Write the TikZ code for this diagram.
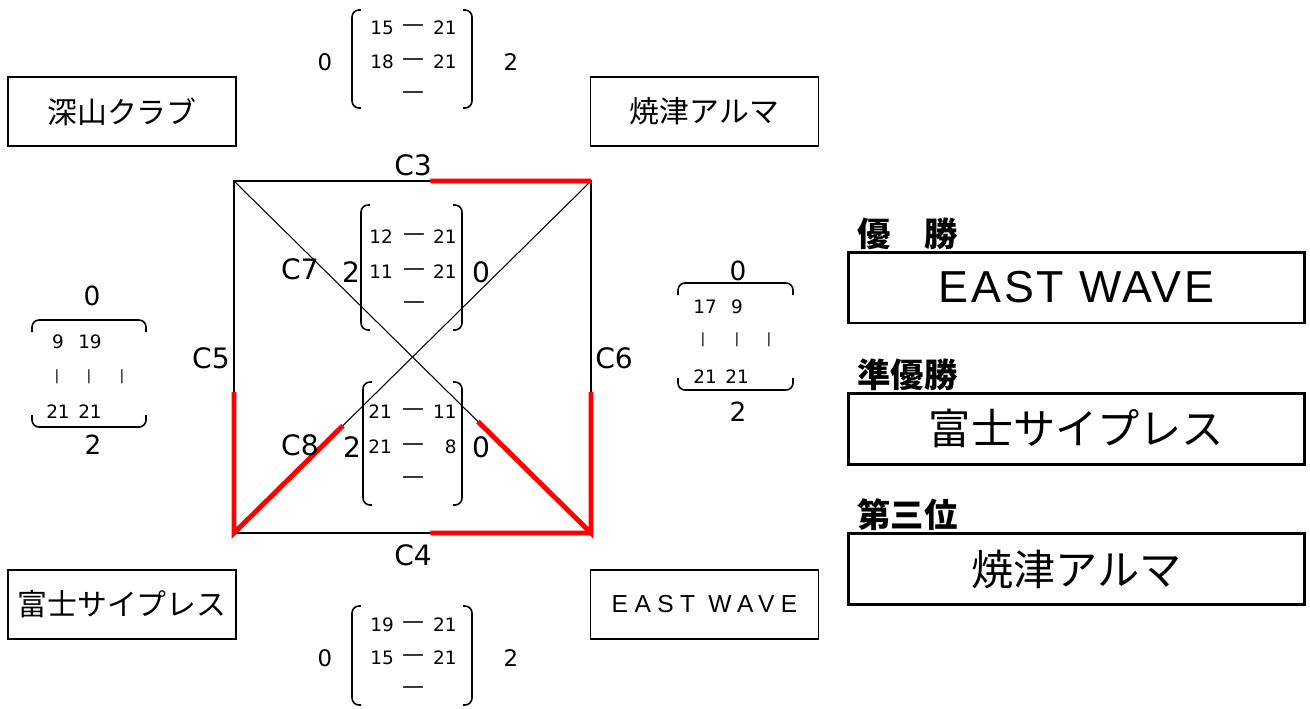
\documentclass[tikz,border=0pt]{standalone}
\usepackage{fontspec}
\setmainfont{DejaVu Sans}
\newfontfamily\jp{Noto Sans CJK JP}
\newfontfamily\widefont[LetterSpace=26]{Liberation Sans}
\newfontfamily\bigfont[LetterSpace=6]{Liberation Sans}
\usetikzlibrary{calc}
\tikzset{
	team/.style={draw, line width=0.6pt, minimum width=4.56cm, minimum height=1.38cm, inner sep=0pt, font=\jp\fontsize{17}{20}\selectfont},
	result/.style={draw, line width=1.7pt, minimum width=9.14cm, minimum height=1.42cm, inner sep=0pt, font=\jp\fontsize{24}{28}\selectfont},
	place/.style={anchor=west, inner sep=0pt, font=\jp\bfseries\fontsize{19}{22}\selectfont},
	court/.style={inner sep=0pt, font=\fontsize{16}{19}\selectfont},
	num/.style={inner sep=0pt, font=\fontsize{10.5}{12}\selectfont},
	scoredash/.style={inner sep=0pt, font=\fontsize{12.5}{14}\selectfont},
	set/.style={inner sep=0pt, font=\fontsize{13}{15}\selectfont},
	bigset/.style={inner sep=0pt, font=\fontsize{16}{19}\selectfont},
	edge/.style={line width=1.3pt},
	diag/.style={line width=0.6pt},
	won/.style={red, line width=2.8pt},
	paren/.style={line width=0.9pt, rounded corners=4pt}
}
\begin{document}
\begin{tikzpicture}[x=0.02cm, y=-0.02cm, line join=miter]
	\useasboundingbox (0,0) rectangle (1310,708);
	% teams
	\node[team] (fukayama) at (122,111.5) {深山クラブ};
	\node[team] (yaizu) at (704.5,111.5) {焼津アルマ};
	\node[team] (fuji) at (122,604.5) {富士サイプレス};
	\node[team, font=\widefont\fontsize{14}{16}\selectfont] (east) at (704.5,604.5) {EAST WAVE};
	% courts
	\coordinate (tl) at (234,181);
	\coordinate (tr) at (591,181);
	\coordinate (br) at (591,533);
	\coordinate (bl) at (234,533);
	\draw[edge] (tl) -- (tr) -- (br) -- (bl) -- cycle;
	\draw[diag] (tl) -- (br) (bl) -- (tr);
	\draw[won] ($(tl)!0.55!(tr)$) -- (tr);
	\draw[won] ($(bl)!0.55!(br)$) -- (br);
	\draw[won] ($(tl)!0.6!(bl)$) -- (bl) -- ($(bl)!0.305!(tr)$);
	\draw[won] ($(tr)!0.6!(br)$) -- (br) -- ($(tl)!0.683!(br)$);
	\node[court] (c3) at (413,165) {C3};
	\node[court] (c4) at (413,555) {C4};
	\node[court] (c5) at (211,358) {C5};
	\node[court] (c6) at (614,358) {C6};
	\node[court] (c7) at (300,269) {C7};
	\node[court] (c8) at (300,445) {C8};
	% top game
	\draw[paren] (361,10) -- (352,10) -- (352,108) -- (361,108);
	\draw[paren] (463,10) -- (472,10) -- (472,108) -- (463,108);
	\foreach \a/\b/\y [count=\i] in {15/21/28, 18/21/62}
	{
		\node[num] (top-l\i) at (382,\y) {\a};
		\node[scoredash] (top-d\i) at (413,\y) {—};
		\node[num, anchor=east] (top-r\i) at (457,\y) {\b};
	}
	\node[scoredash] (top-d3) at (413,95) {—};
	\node[set] (top-a) at (325,62) {0};
	\node[set] (top-b) at (511,62) {2};
	% bottom game
	\draw[paren] (361,606) -- (352,606) -- (352,705) -- (361,705);
	\draw[paren] (463,606) -- (472,606) -- (472,705) -- (463,705);
	\foreach \a/\b/\y [count=\i] in {19/21/625, 15/21/658}
	{
		\node[num] (bot-l\i) at (382,\y) {\a};
		\node[scoredash] (bot-d\i) at (413,\y) {—};
		\node[num, anchor=east] (bot-r\i) at (457,\y) {\b};
	}
	\node[scoredash] (bot-d3) at (413,690) {—};
	\node[set] (bot-a) at (325,658) {0};
	\node[set] (bot-b) at (511,658) {2};
	% C7 game
	\draw[paren] (370,205) -- (361,205) -- (361,330) -- (370,330);
	\draw[paren] (453,205) -- (462,205) -- (462,330) -- (453,330);
	\foreach \a/\b/\y [count=\i] in {12/21/237, 11/21/272}
	{
		\node[num] (sev-l\i) at (381,\y) {\a};
		\node[scoredash] (sev-d\i) at (414,\y) {—};
		\node[num, anchor=east] (sev-r\i) at (457,\y) {\b};
	}
	\node[scoredash] (sev-d3) at (414,305) {—};
	\node[bigset] (sev-a) at (351,272) {2};
	\node[bigset] (sev-b) at (481,272) {0};
	% C8 game
	\draw[paren] (372,382) -- (363,382) -- (363,505) -- (372,505);
	\draw[paren] (453,382) -- (462,382) -- (462,505) -- (453,505);
	\foreach \a/\b/\y [count=\i] in {21/11/412, 21/8/447}
	{
		\node[num] (eig-l\i) at (380,\y) {\a};
		\node[scoredash] (eig-d\i) at (413,\y) {—};
		\node[num, anchor=east] (eig-r\i) at (457,\y) {\b};
	}
	\node[scoredash] (eig-d3) at (413,480) {—};
	\node[bigset] (eig-a) at (352,447) {2};
	\node[bigset] (eig-b) at (481,447) {0};
	% C5 game
	\draw[paren] (32,332) -- (32,320) -- (146,320) -- (146,332);
	\draw[paren] (32,415) -- (32,427) -- (146,427) -- (146,415);
	\node[bigset, font=\fontsize{15}{18}\selectfont] (fiv-a) at (92,296) {0};
	\node[bigset, font=\fontsize{15}{18}\selectfont] (fiv-b) at (93,445) {2};
	\foreach \x/\a/\b [count=\i] in {58/9/21, 90/19/21}
	{
		\node[num] (fiv-t\i) at (\x,342) {\a};
		\node[num] (fiv-u\i) at (\x,412) {\b};
	}
	\foreach \x [count=\i] in {57,89,122}
		\node[num, font=\fontsize{8}{10}\selectfont] (fiv-v\i) at (\x,377) {|};
	% C6 game
	\draw[paren] (678,295) -- (678,283) -- (793,283) -- (793,295);
	\draw[paren] (678,378) -- (678,390) -- (793,390) -- (793,378);
	\node[bigset, font=\fontsize{15}{18}\selectfont] (six-a) at (738,271) {0};
	\node[bigset, font=\fontsize{15}{18}\selectfont] (six-b) at (738,412) {2};
	\foreach \x/\a/\b [count=\i] in {705/17/21, 737/9/21}
	{
		\node[num] (six-t\i) at (\x,307) {\a};
		\node[num] (six-u\i) at (\x,377) {\b};
	}
	\foreach \x [count=\i] in {703,737,769}
		\node[num, font=\fontsize{8}{10}\selectfont] (six-v\i) at (\x,340) {|};
	% results
	\node[place] (first-lbl) at (857,234) {優　勝};
	\node[result, font=\bigfont\fontsize{25.5}{30}\selectfont] (first) at (1076.5,287.5) {EAST WAVE};
	\node[place] (second-lbl) at (857,375) {準優勝};
	\node[result] (second) at (1076.5,428.5) {富士サイプレス};
	\node[place] (third-lbl) at (857,515) {第三位};
	\node[result] (third) at (1076.5,569) {焼津アルマ};
\end{tikzpicture}
\end{document}
